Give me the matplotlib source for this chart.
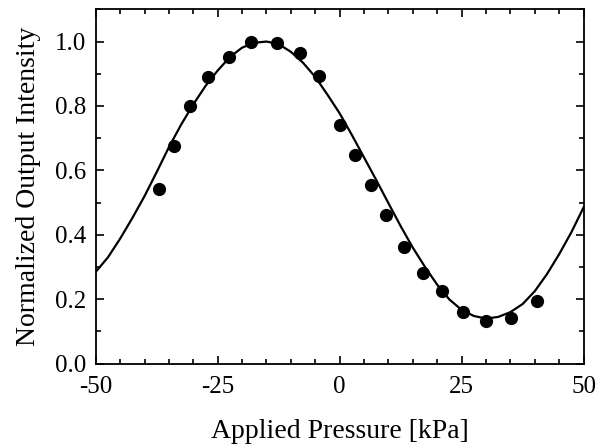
import numpy as np
import matplotlib
matplotlib.use('Agg')
import matplotlib.pyplot as plt
from matplotlib.ticker import MultipleLocator, FormatStrFormatter

pressure = [-37.0, -33.9, -30.6, -26.9, -22.7, -18.1, -12.8, -8.1, -4.3, 0.0,
            3.1, 6.5, 9.5, 13.2, 17.1, 21.0, 25.3, 30.1, 35.2, 40.5]
intensity = [0.543, 0.675, 0.801, 0.891, 0.953, 1.0, 0.994, 0.963, 0.892, 0.742,
             0.648, 0.555, 0.46, 0.362, 0.282, 0.224, 0.161, 0.133, 0.141, 0.195]

# fitted curve, read every 2.5 kPa
fit_x = [-50, -47.5, -45, -42.5, -40, -37.5, -35, -32.5, -30, -27.5, -25,
         -22.5, -20, -17.5, -15, -12.5, -10, -7.5, -5, -2.5, 0,
         2.5, 5, 7.5, 10, 12.5, 15, 17.5, 20, 22.5, 25,
         27.5, 30, 32.5, 35, 37.5, 40, 42.5, 45, 47.5, 50]
fit_y = [0.285, 0.33, 0.388, 0.452, 0.52, 0.595, 0.672, 0.742, 0.805, 0.862, 0.91,
         0.952, 0.981, 0.996, 1.0, 0.992, 0.968, 0.934, 0.89, 0.835, 0.777,
         0.71, 0.64, 0.57, 0.498, 0.427, 0.36, 0.3, 0.245, 0.199, 0.167,
         0.148, 0.14, 0.145, 0.16, 0.185, 0.225, 0.278, 0.34, 0.408, 0.485]

plt.rcParams['font.family'] = ['Liberation Serif', 'DejaVu Serif']
plt.rcParams['axes.unicode_minus'] = False

fig = plt.figure(figsize=(6.06, 4.44), dpi=100)
ax = fig.add_axes([0.158, 0.181, 0.805, 0.798])

ax.plot(fit_x, fit_y, color='black', lw=1.6)
ax.plot(pressure, intensity, 'o', color='black', markersize=8.5)

ax.set_xlim(-50, 50)
ax.set_ylim(0, 1.1)
ax.xaxis.set_major_locator(MultipleLocator(25))
ax.xaxis.set_minor_locator(MultipleLocator(5))
ax.yaxis.set_major_locator(MultipleLocator(0.2))
ax.yaxis.set_minor_locator(MultipleLocator(0.1))
ax.yaxis.set_major_formatter(FormatStrFormatter('%.1f'))

ax.tick_params(which='both', direction='in', top=True, right=True, width=1.2,
               labelsize=18, colors='black')
ax.tick_params(which='major', length=6, pad=7)
ax.tick_params(axis='x', which='major', pad=9)
ax.tick_params(which='minor', length=3.5)
for s in ax.spines.values():
    s.set_linewidth(1.3)

ax.set_xlabel('Applied Pressure [kPa]', fontsize=20, labelpad=15)
ax.set_ylabel('Normalized Output Intensity', fontsize=20, labelpad=10)

fig.savefig('out.png', dpi=100)
